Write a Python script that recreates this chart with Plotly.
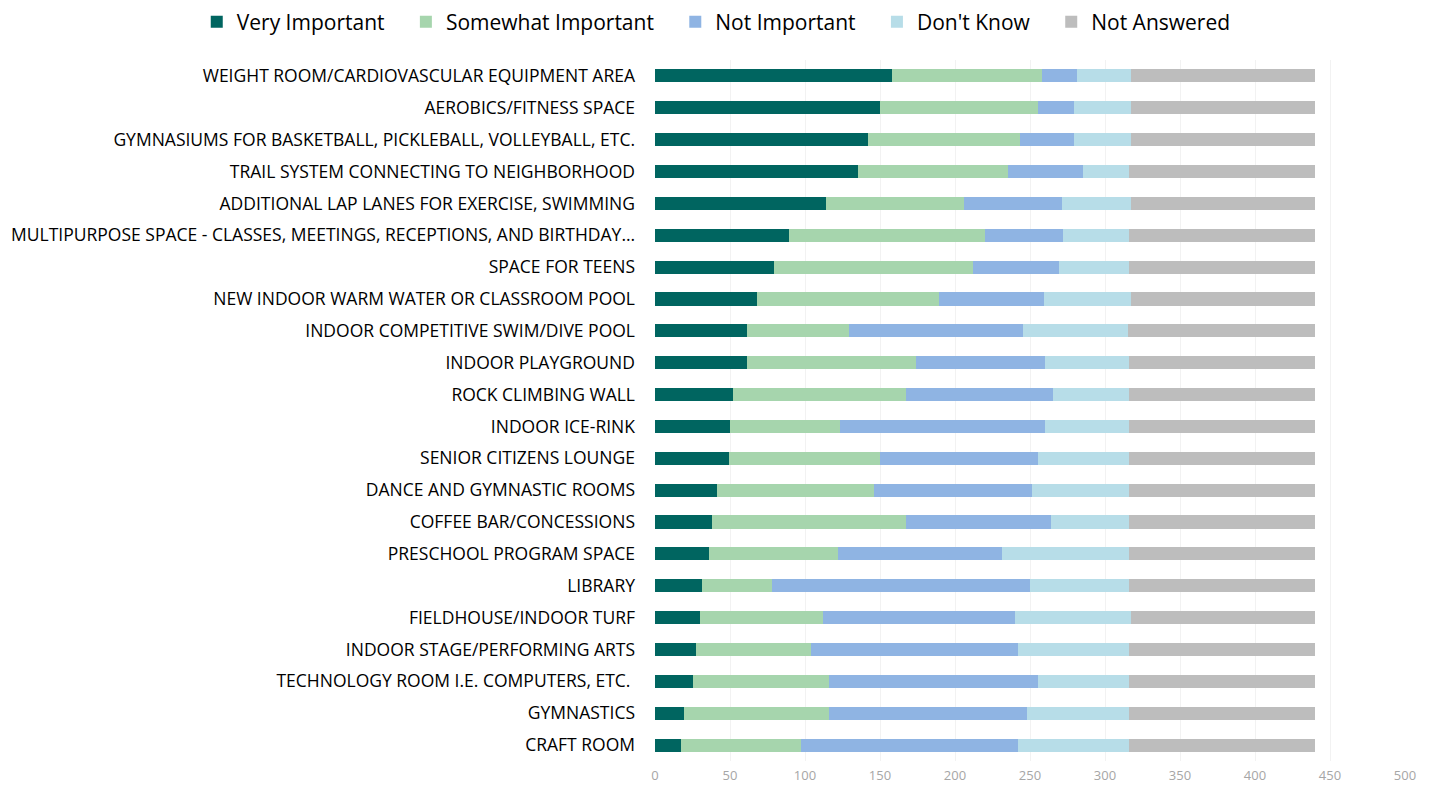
import plotly.graph_objects as go

categories = [
    "WEIGHT ROOM/CARDIOVASCULAR EQUIPMENT AREA",
    "AEROBICS/FITNESS SPACE",
    "GYMNASIUMS FOR BASKETBALL, PICKLEBALL, VOLLEYBALL, ETC.",
    "TRAIL SYSTEM CONNECTING TO NEIGHBORHOOD",
    "ADDITIONAL LAP LANES FOR EXERCISE, SWIMMING",
    "MULTIPURPOSE SPACE - CLASSES, MEETINGS, RECEPTIONS, AND BIRTHDAY…",
    "SPACE FOR TEENS",
    "NEW INDOOR WARM WATER OR CLASSROOM POOL",
    "INDOOR COMPETITIVE SWIM/DIVE POOL",
    "INDOOR PLAYGROUND",
    "ROCK CLIMBING WALL",
    "INDOOR ICE-RINK",
    "SENIOR CITIZENS LOUNGE",
    "DANCE AND GYMNASTIC ROOMS",
    "COFFEE BAR/CONCESSIONS",
    "PRESCHOOL PROGRAM SPACE",
    "LIBRARY",
    "FIELDHOUSE/INDOOR TURF",
    "INDOOR STAGE/PERFORMING ARTS",
    "TECHNOLOGY ROOM I.E. COMPUTERS, ETC. ",
    "GYMNASTICS",
    "CRAFT ROOM",
]

very_important = [158, 150, 142, 135, 114, 89, 79, 68, 61, 61, 52, 50, 49, 41, 38, 36, 31, 30, 27, 25, 19, 17]
somewhat_important = [100, 105, 101, 100, 92, 131, 133, 121, 68, 113, 115, 73, 101, 105, 129, 86, 47, 82, 77, 91, 97, 80]
not_important = [23, 24, 36, 50, 65, 52, 57, 70, 116, 86, 98, 137, 105, 105, 97, 109, 172, 128, 138, 139, 132, 145]
dont_know = [36, 38, 38, 31, 46, 44, 47, 58, 70, 56, 51, 56, 61, 65, 52, 85, 66, 77, 74, 61, 68, 74]
not_answered = [123, 123, 123, 124, 123, 124, 124, 123, 125, 124, 124, 124, 124, 124, 124, 124, 124, 123, 124, 124, 124, 124]

x_ticks = [0, 50, 100, 150, 200, 250, 300, 350, 400, 450, 500]

series = [
    ("Very Important", very_important, "#006560"),
    ("Somewhat Important", somewhat_important, "#a6d5ad"),
    ("Not Important", not_important, "#8fb4e3"),
    ("Don't Know", dont_know, "#b7dde8"),
    ("Not Answered", not_answered, "#bdbdbd"),
]

# extra non-breaking padding widens the gap between legend entries
PAD = "\u00a0\u00a0\u00a0"

fig = go.Figure()
for i, (name, values, color) in enumerate(series):
    fig.add_trace(go.Bar(
        name=name + (PAD if i < len(series) - 1 else ""),
        y=categories,
        x=values,
        orientation="h",
        marker=dict(color=color, line=dict(width=0)),
        width=0.41,
    ))

fig.update_layout(
    barmode="stack",
    width=1434,
    height=787,
    paper_bgcolor="white",
    plot_bgcolor="white",
    margin=dict(l=655, r=29, t=60, b=26, autoexpand=False),
    font=dict(family="Open Sans", color="#000000"),
    legend=dict(
        orientation="h",
        xref="paper",
        yref="paper",
        x=-0.611,
        xanchor="left",
        y=1.054,
        yanchor="middle",
        font=dict(size=21, color="#000000"),
        traceorder="normal",
        itemwidth=30,
        tracegroupgap=0,
    ),
    xaxis=dict(
        range=[0, 500],
        tickvals=x_ticks,
        ticktext=[str(v) for v in x_ticks],
        tickfont=dict(size=13, color="#a6a6a6"),
        ticklabelstandoff=5,
        showgrid=True,
        gridcolor="#f2f2f2",
        gridwidth=1,
        zeroline=False,
        showline=False,
        ticks="",
        fixedrange=True,
    ),
    yaxis=dict(
        autorange="reversed",
        tickfont=dict(size=17.5, color="#000000"),
        ticklabelstandoff=19,
        showgrid=False,
        ticks="",
        ticklen=0,
        showline=False,
        automargin=False,
        fixedrange=True,
    ),
    bargap=0.59,
)

fig.write_html("out.html")
